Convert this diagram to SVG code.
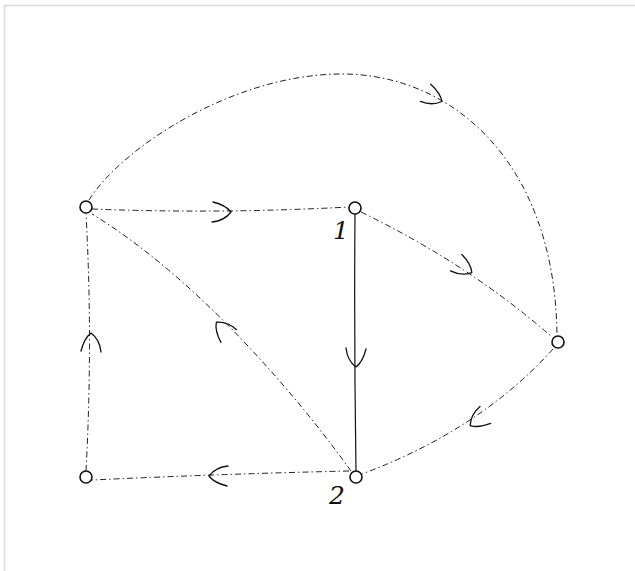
<svg xmlns="http://www.w3.org/2000/svg" xmlns:xlink="http://www.w3.org/1999/xlink" width="635" height="571" viewBox="0 0 635 571">
<style>
.frame{fill:#fff;stroke:#d9d9d9;stroke-width:1.5}
.dd{fill:none;stroke:#222;stroke-width:1;stroke-dasharray:6 3 1.5 3}
.solid{fill:none;stroke:#111;stroke-width:1.2}
.ah{fill:none;stroke:#111;stroke-width:1.3;stroke-linecap:round;stroke-linejoin:round}
.node{fill:#fff;stroke:#111;stroke-width:1.6}
.lbl{font-family:"DejaVu Serif","Liberation Serif",serif;font-style:italic;font-size:25px;fill:#111}
</style>
<defs>
<path id="ah" d="M -17 -10 C -9 -8, -2 -4, 1 0 C -2 4, -8 9, -18 10"/>
</defs>
<rect class="frame" x="4.5" y="5.5" width="640" height="580"/>
<g id="connectors">
<path class="dd" d="M 92 209 Q 220 214 349 207"/>
<use class="ah" href="#ah" transform="translate(230,212) rotate(0)"/>
<path class="dd" d="M 89 200 C 120 150, 230 75, 340 74 C 450 73, 555 160, 557 335"/>
<use class="ah" href="#ah" transform="translate(441,101) rotate(28)"/>
<path class="dd" d="M 361 212 Q 470 265 552 337"/>
<use class="ah" href="#ah" transform="translate(471,272) rotate(32)"/>
<path class="solid" d="M 355 214 Q 354 340 356 471"/>
<use class="ah" href="#ah" transform="translate(356,366) rotate(90)"/>
<path class="dd" d="M 553 349 Q 480 430 362 474"/>
<use class="ah" href="#ah" transform="translate(471,425) rotate(145)"/>
<path class="dd" d="M 351 471 C 300 400, 200 280, 92 214"/>
<use class="ah" href="#ah" transform="translate(217,323) rotate(-132)"/>
<path class="dd" d="M 349 471 Q 220 474 92 480"/>
<use class="ah" href="#ah" transform="translate(210,476) rotate(180)"/>
<path class="dd" d="M 86 471 Q 93 340 86 214"/>
<use class="ah" href="#ah" transform="translate(91,334) rotate(-90)"/>
</g>
<g id="nA"><circle class="node" cx="86" cy="207" r="6"/></g>
<g id="n1"><circle class="node" cx="355" cy="208" r="6"/><text class="lbl" x="333" y="239">1</text></g>
<g id="nC"><circle class="node" cx="558" cy="342" r="6"/></g>
<g id="n2"><circle class="node" cx="356" cy="477" r="6"/><text class="lbl" x="329" y="504">2</text></g>
<g id="nD"><circle class="node" cx="86" cy="477" r="6"/></g>
</svg>
